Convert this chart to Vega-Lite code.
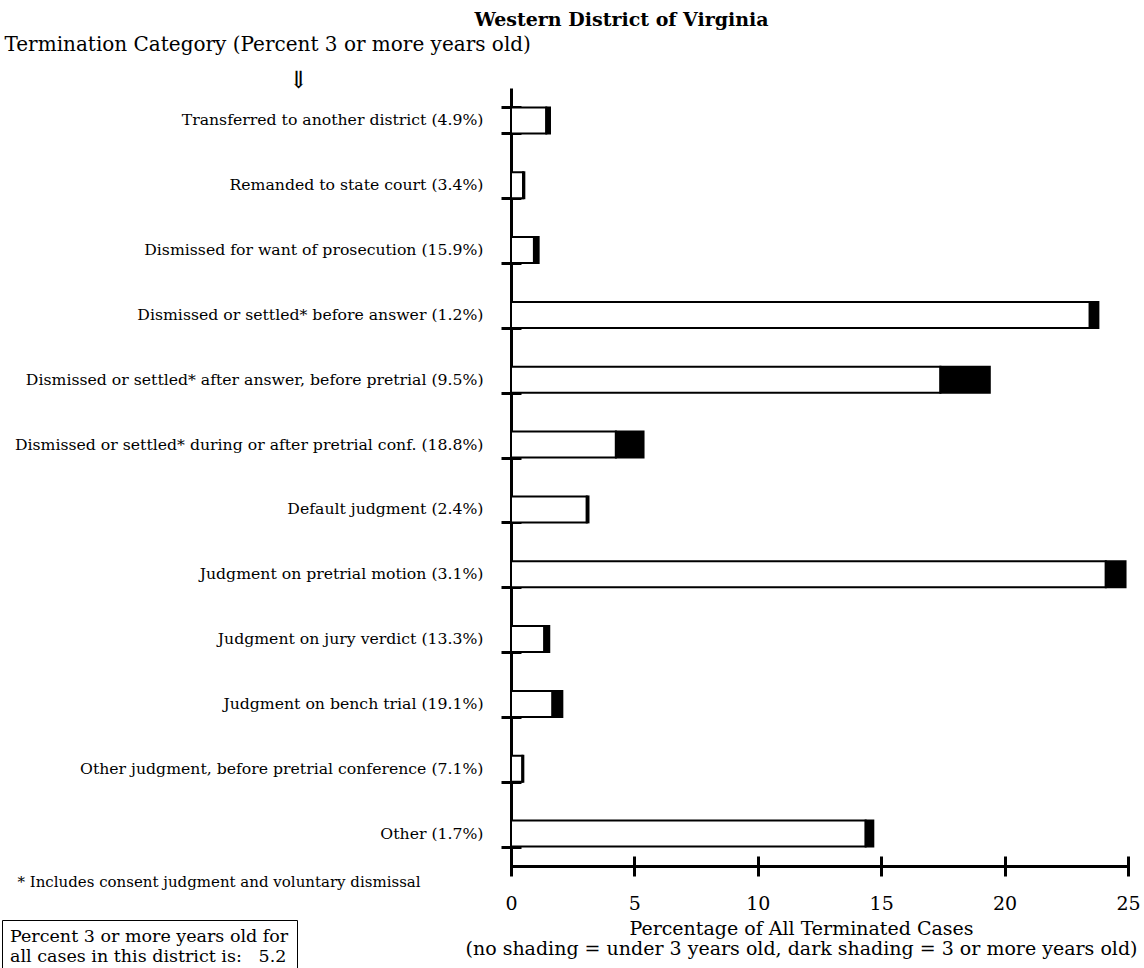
{
  "$schema": "https://vega.github.io/schema/vega-lite/v6.json",
  "description": "Western District of Virginia: terminated cases by termination category, split by age of case.",
  "autosize": {"type": "none"},
  "width": 617,
  "height": 778,
  "padding": {"left": 511, "top": 88, "right": 16, "bottom": 102},
  "background": "white",
  "title": {
    "text": "Western District of Virginia",
    "frame": "group",
    "anchor": "middle",
    "dx": -198,
    "offset": 4,
    "font": "DejaVu Serif",
    "fontSize": 19,
    "fontWeight": "bold",
    "color": "black"
  },
  "data": {
    "values": [
      {"category": "Transferred to another district (4.9%)", "age": "under 3 years old", "pct": 1.43},
      {"category": "Transferred to another district (4.9%)", "age": "3 or more years old", "pct": 0.15},
      {"category": "Remanded to state court (3.4%)", "age": "under 3 years old", "pct": 0.49},
      {"category": "Remanded to state court (3.4%)", "age": "3 or more years old", "pct": 0.05},
      {"category": "Dismissed for want of prosecution (15.9%)", "age": "under 3 years old", "pct": 0.93},
      {"category": "Dismissed for want of prosecution (15.9%)", "age": "3 or more years old", "pct": 0.19},
      {"category": "Dismissed or settled* before answer (1.2%)", "age": "under 3 years old", "pct": 23.45},
      {"category": "Dismissed or settled* before answer (1.2%)", "age": "3 or more years old", "pct": 0.35},
      {"category": "Dismissed or settled* after answer, before pretrial (9.5%)", "age": "under 3 years old", "pct": 17.4},
      {"category": "Dismissed or settled* after answer, before pretrial (9.5%)", "age": "3 or more years old", "pct": 2.0},
      {"category": "Dismissed or settled* during or after pretrial conf. (18.8%)", "age": "under 3 years old", "pct": 4.25},
      {"category": "Dismissed or settled* during or after pretrial conf. (18.8%)", "age": "3 or more years old", "pct": 1.12},
      {"category": "Default judgment (2.4%)", "age": "under 3 years old", "pct": 3.07},
      {"category": "Default judgment (2.4%)", "age": "3 or more years old", "pct": 0.07},
      {"category": "Judgment on pretrial motion (3.1%)", "age": "under 3 years old", "pct": 24.1},
      {"category": "Judgment on pretrial motion (3.1%)", "age": "3 or more years old", "pct": 0.8},
      {"category": "Judgment on jury verdict (13.3%)", "age": "under 3 years old", "pct": 1.35},
      {"category": "Judgment on jury verdict (13.3%)", "age": "3 or more years old", "pct": 0.2},
      {"category": "Judgment on bench trial (19.1%)", "age": "under 3 years old", "pct": 1.68},
      {"category": "Judgment on bench trial (19.1%)", "age": "3 or more years old", "pct": 0.4},
      {"category": "Other judgment, before pretrial conference (7.1%)", "age": "under 3 years old", "pct": 0.46},
      {"category": "Other judgment, before pretrial conference (7.1%)", "age": "3 or more years old", "pct": 0.04},
      {"category": "Other (1.7%)", "age": "under 3 years old", "pct": 14.37},
      {"category": "Other (1.7%)", "age": "3 or more years old", "pct": 0.31}
    ]
  },
  "layer": [
    {
      "mark": {"type": "bar", "stroke": "black", "strokeWidth": 2},
      "encoding": {
        "y": {
          "field": "category",
          "type": "nominal",
          "sort": null,
          "scale": {"paddingInner": 0.6, "paddingOuter": 0.3},
          "axis": {
            "orient": "left",
            "title": "Termination Category (Percent 3 or more years old)",
            "titleAngle": 0,
            "titleAlign": "left",
            "titleBaseline": "middle",
            "titleX": -507,
            "titleY": -44,
            "titleFontSize": 20,
            "titleFontWeight": "normal",
            "labelFontSize": 15.7,
            "labelPadding": 28,
            "labelLimit": 0,
            "ticks": false,
            "tickSize": 0,
            "domainWidth": 3
          }
        },
        "x": {
          "field": "pct",
          "type": "quantitative",
          "stack": "zero",
          "scale": {"domain": [0, 25], "nice": false},
          "axis": {
            "orient": "bottom",
            "values": [0, 5, 10, 15, 20, 25],
            "grid": false,
            "ticks": false,
            "tickSize": 0,
            "labelPadding": 28,
            "labelFontSize": 19,
            "labelFlush": false,
            "domainWidth": 3,
            "title": ["Percentage of All Terminated Cases", "(no shading = under 3 years old, dark shading = 3 or more years old)"],
            "titleX": 290,
            "titleY": 53,
            "titleAlign": "center",
            "titleBaseline": "top",
            "titleFontSize": 19,
            "titleFontWeight": "normal",
            "titleLineHeight": 20
          }
        },
        "color": {
          "field": "age",
          "type": "nominal",
          "scale": {"domain": ["under 3 years old", "3 or more years old"], "range": ["white", "black"]},
          "legend": {
            "orient": "none",
            "legendX": -509,
            "legendY": 832,
            "values": [],
            "title": ["Percent 3 or more years old for", "all cases in this district is:\u00a0\u00a0\u00a05.2"],
            "titleFontSize": 17.5,
            "titleFontWeight": "normal",
            "titleLineHeight": 20,
            "titleLimit": 0,
            "strokeColor": "black",
            "fillColor": "white",
            "padding": 8
          }
        },
        "order": {"field": "age", "sort": "descending"}
      }
    },
    {
      "mark": {"type": "bar", "opacity": 0},
      "encoding": {
        "y": {
          "field": "category",
          "type": "nominal",
          "sort": null,
          "axis": {
            "orient": "left",
            "title": "⇓",
            "titleAngle": 0,
            "titleAlign": "center",
            "titleBaseline": "middle",
            "titleX": -223,
            "titleY": -8,
            "titleFontSize": 24,
            "titleFontWeight": "normal",
            "labels": false,
            "domain": false,
            "tickBand": "extent",
            "tickSize": 20,
            "tickWidth": 3,
            "offset": -10
          }
        },
        "x": {
          "field": "pct",
          "type": "quantitative",
          "axis": {
            "orient": "bottom",
            "values": [0, 5, 10, 15, 20, 25],
            "grid": false,
            "labels": false,
            "domain": false,
            "tickSize": 20,
            "tickWidth": 3,
            "offset": -10,
            "title": "* Includes consent judgment and voluntary dismissal",
            "titleX": -494,
            "titleY": 25,
            "titleAlign": "left",
            "titleBaseline": "middle",
            "titleFontSize": 15,
            "titleFontWeight": "normal"
          }
        }
      }
    }
  ],
  "resolve": {"axis": {"x": "independent", "y": "independent"}},
  "config": {
    "font": "DejaVu Serif",
    "view": {"stroke": null},
    "axis": {
      "domainColor": "black",
      "tickColor": "black",
      "labelColor": "black",
      "titleColor": "black",
      "labelFont": "DejaVu Serif",
      "titleFont": "DejaVu Serif"
    },
    "legend": {"titleFont": "DejaVu Serif", "titleColor": "black"}
  }
}
